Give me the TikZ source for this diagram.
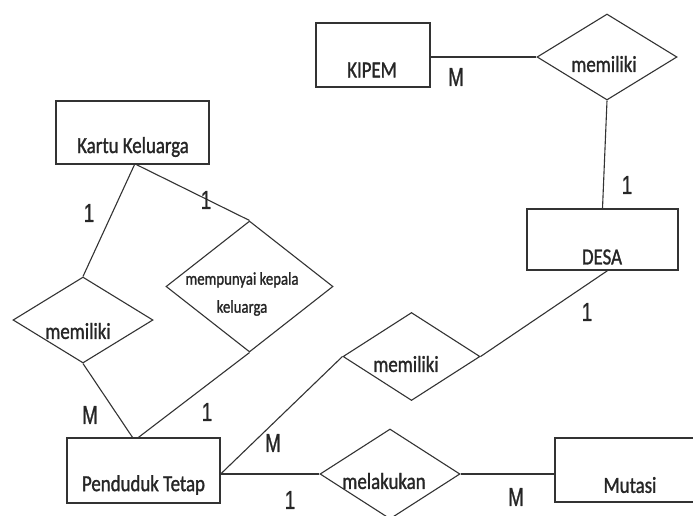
\documentclass[tikz,border=0pt]{standalone}
\usepackage{fontspec}
\usetikzlibrary{shapes.geometric}
\newfontfamily\erfont[FakeStretch=0.82,FakeBold=1.2]{Carlito}
\newfontfamily\cardfont[FakeStretch=0.72,FakeBold=0.8]{Liberation Sans}
\begin{document}
\begin{tikzpicture}[x=1pt,y=-1pt,
  ent/.style={draw=black!80,line width=1.3pt,rectangle,inner sep=0pt},
  rel/.style={draw=black!80,line width=1.1pt,diamond,inner sep=0pt},
  txt/.style={font=\erfont\fontsize{23}{24}\selectfont,text=black!85,inner sep=0pt},
  smalltxt/.style={font=\erfont\fontsize{18}{28}\selectfont,text=black!85,inner sep=0pt,align=center},
  card/.style={font=\cardfont\fontsize{26}{26}\selectfont,text=black!85,inner sep=0pt},
  conn/.style={draw=black!80,line width=1.1pt}]
\useasboundingbox (0,0) rectangle (693,515);
\fill[white] (0,0) rectangle (693,515);
% entities
\node[ent,minimum width=114pt,minimum height=64pt] (kipem) at (373,55) {};
\node[ent,minimum width=151pt,minimum height=61pt] (desa) at (602.5,239.5) {};
\node[ent,minimum width=153pt,minimum height=63pt] (kk) at (132.5,132.5) {};
\node[ent,minimum width=153pt,minimum height=65pt] (pt) at (143.5,470.5) {};
\node[ent,minimum width=150pt,minimum height=64pt] (mutasi) at (630,470) {};
% relationships
\node[rel,minimum width=140pt,minimum height=86pt] (rkd) at (607,57) {};
\node[rel,minimum width=140pt,minimum height=86pt] (rkp) at (83,320) {};
\node[rel,minimum width=167pt,minimum height=131pt] (rkk) at (249.5,286.5) {};
\node[rel,minimum width=137pt,minimum height=88pt] (rdp) at (411.5,356.5) {};
\node[rel,minimum width=140pt,minimum height=90pt] (rpm) at (390,474) {};
% texts
\node[txt] (tkipem) at (372,70) {KIPEM};
\node[txt] (tdesa) at (602,257) {DESA};
\node[txt] (tkk) at (133,147) {Kartu Keluarga};
\node[txt] (tpt) at (143.5,485) {Penduduk Tetap};
\node[txt] (tmutasi) at (630,485) {Mutasi};
\node[txt] (trkd) at (604,64) {memiliki};
\node[txt] (trkp) at (78,331) {memiliki};
\node[smalltxt] (trkk) at (242,294) {mempunyai kepala\\keluarga};
\node[txt] (trdp) at (406,364) {memiliki};
\node[txt] (trpm) at (384,481) {melakukan};
% connectors
\draw[conn] ([yshift=-2pt]kipem.east) -- (rkd.west);
\draw[conn] (rkd.south) -- (desa.north);
\draw[conn] ([xshift=5pt]desa.south) -- (rdp.east);
\draw[conn] ([xshift=2pt]kk.south) -- (rkp.north);
\draw[conn] ([xshift=4pt]kk.south) -- (rkk.north);
\draw[conn] (rkp.south) -- ([xshift=-11pt]pt.north);
\draw[conn] (rkk.south) -- ([xshift=-5pt]pt.north);
\draw[conn] ([yshift=-3.5pt]pt.east) -- (rdp.west);
\draw[conn] ([yshift=-3.5pt]pt.east) -- (rpm.west);
\draw[conn] (rpm.east) -- ([yshift=-4pt]mutasi.west);
% cardinalities
\node[card] (c1) at (456,77) {M};
\node[card] (c2) at (627,185) {1};
\node[card] (c3) at (587,312) {1};
\node[card] (c4) at (89,213) {1};
\node[card] (c5) at (206,200) {1};
\node[card] (c6) at (90,415) {M};
\node[card] (c7) at (207,412) {1};
\node[card] (c8) at (273,443) {M};
\node[card] (c9) at (290,500) {1};
\node[card] (c10) at (516,497) {M};
\end{tikzpicture}
\end{document}
